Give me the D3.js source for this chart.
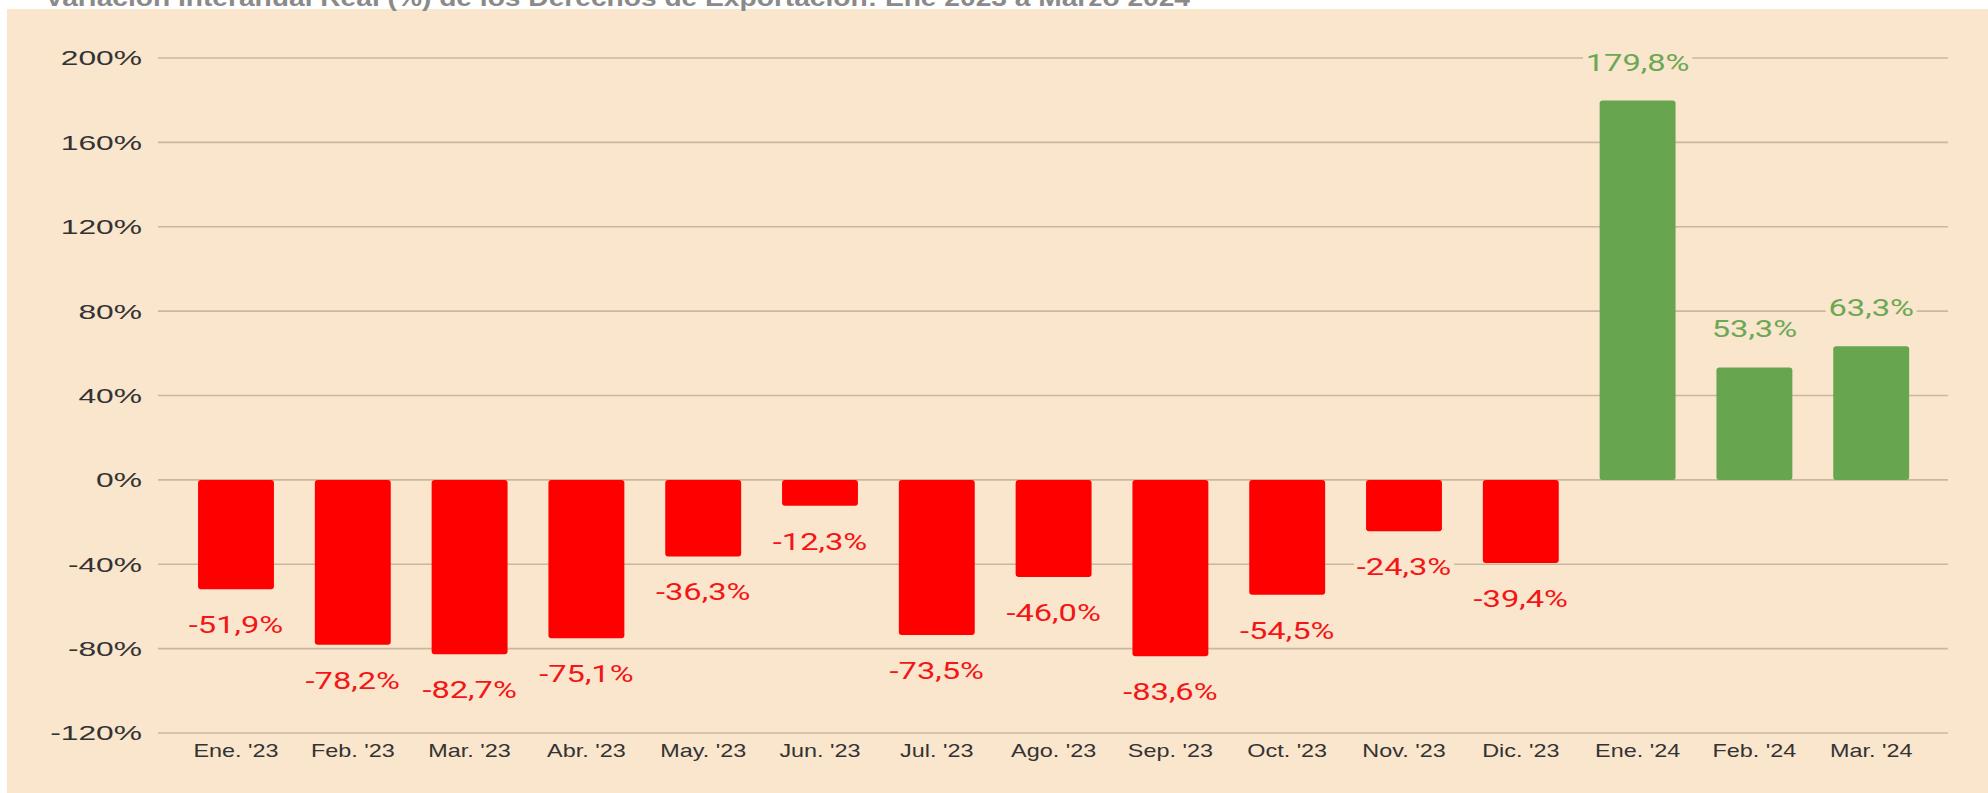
<!DOCTYPE html>
<html lang="es">
  <head>
    <meta charset="UTF-8" />
    <title>Derechos de Exportación - Variación Interanual Real</title>
    <script src="https://cdn.jsdelivr.net/npm/d3@7"></script>
    <style>
      body {
        margin: 0;
        background: #ffffff;
      }
      svg {
        display: block;
      }
    </style>
  </head>
  <body>
    <svg id="chart"></svg>
    <script>
      const months = [
        "Ene. '23", "Feb. '23", "Mar. '23", "Abr. '23", "May. '23",
        "Jun. '23", "Jul. '23", "Ago. '23", "Sep. '23", "Oct. '23",
        "Nov. '23", "Dic. '23", "Ene. '24", "Feb. '24", "Mar. '24",
      ];
      const variation = [
        -51.9, -78.2, -82.7, -75.1, -36.3, -12.3, -73.5, -46.0, -83.6, -54.5,
        -24.3, -39.4, 179.8, 53.3, 63.3,
      ];
      const yTicks = [-120, -80, -40, 0, 40, 80, 120, 160, 200];
      const title =
        "Variación Interanual Real (%) de los Derechos de Exportación: Ene 2023 a Marzo 2024";

      const width = 1988;
      const height = 793;
      const panelColor = "#fae5cd";

      const svg = d3
        .select("#chart")
        .attr("width", width)
        .attr("height", height);

      // panel background
      svg
        .append("rect")
        .attr("x", 7)
        .attr("y", 9)
        .attr("width", width - 7)
        .attr("height", height - 9)
        .attr("fill", panelColor);

      // title, cut off at the top like in the source image
      svg
        .append("text")
        .attr("x", 45)
        .attr("y", 6)
        .attr("font-family", "Liberation Sans, Arial, sans-serif")
        .attr("font-weight", "bold")
        .attr("font-size", 24)
        .attr("fill", "#8a8a8a")
        .attr("textLength", 1145)
        .attr("lengthAdjust", "spacingAndGlyphs")
        .text(title);

      const y = d3.scaleLinear().domain([-120, 200]).range([733, 58]);

      const x = d3
        .scaleBand()
        .domain(months)
        .range([177.6, 1929.6])
        .paddingInner(0.35)
        .paddingOuter(0.175);

      // grid lines + y labels
      const grid = svg.append("g");
      grid
        .selectAll("line")
        .data(yTicks)
        .join("line")
        .attr("x1", 158)
        .attr("x2", 1948)
        .attr("y1", (d) => y(d))
        .attr("y2", (d) => y(d))
        .attr("stroke", "#c9b79f")
        .attr("stroke-width", 1.6);

      grid
        .selectAll("text")
        .data(yTicks)
        .join("text")
        .attr("transform", (d) => `translate(142,${y(d)}) scale(1.55,1)`)
        .attr("dy", "0.36em")
        .attr("text-anchor", "end")
        .attr("font-family", "Liberation Sans, Arial, sans-serif")
        .attr("font-size", 20.5)
        .attr("fill", "#333333")
        .text((d) => d + "%");

      const data = months.map((m, i) => ({ month: m, value: variation[i] }));

      // bars
      svg
        .append("g")
        .selectAll("rect")
        .data(data)
        .join("rect")
        .attr("x", (d) => x(d.month))
        .attr("width", x.bandwidth())
        .attr("y", (d) => y(Math.max(0, d.value)))
        .attr("height", (d) => Math.abs(y(d.value) - y(0)))
        .attr("rx", 3)
        .attr("fill", (d) => (d.value < 0 ? "#ff0000" : "#67a64e"));

      // value labels, each on a small patch of panel colour (hides the grid)
      const labels = svg
        .append("g")
        .selectAll("g")
        .data(data)
        .join("g")
        .attr("transform", (d) => {
          const cx = x(d.month) + x.bandwidth() / 2;
          const ty = d.value < 0 ? y(d.value) + 44 : y(d.value) - 30;
          return `translate(${cx},${ty}) scale(1.42,1)`;
        });

      labels
        .append("text")
        .attr("text-anchor", "middle")
        .attr("font-family", "Roboto, sans-serif")
        .attr("font-size", 23)
        .attr("fill", (d) => (d.value < 0 ? "#f21616" : "#6aa853"))
        .text((d) => d.value.toFixed(1).replace(".", ",") + "%");

      labels.each(function () {
        const g = d3.select(this);
        const box = g.select("text").node().getBBox();
        g.insert("rect", "text")
          .attr("x", box.x - 2)
          .attr("y", box.y + 2)
          .attr("width", box.width + 4)
          .attr("height", box.height - 4)
          .attr("fill", panelColor);
      });

      // month labels
      svg
        .append("g")
        .selectAll("text")
        .data(months)
        .join("text")
        .attr(
          "transform",
          (d) => `translate(${x(d) + x.bandwidth() / 2},757) scale(1.3,1)`
        )
        .attr("text-anchor", "middle")
        .attr("font-family", "Liberation Sans, Arial, sans-serif")
        .attr("font-size", 18)
        .attr("fill", "#333333")
        .text((d) => d);
    </script>
  </body>
</html>
